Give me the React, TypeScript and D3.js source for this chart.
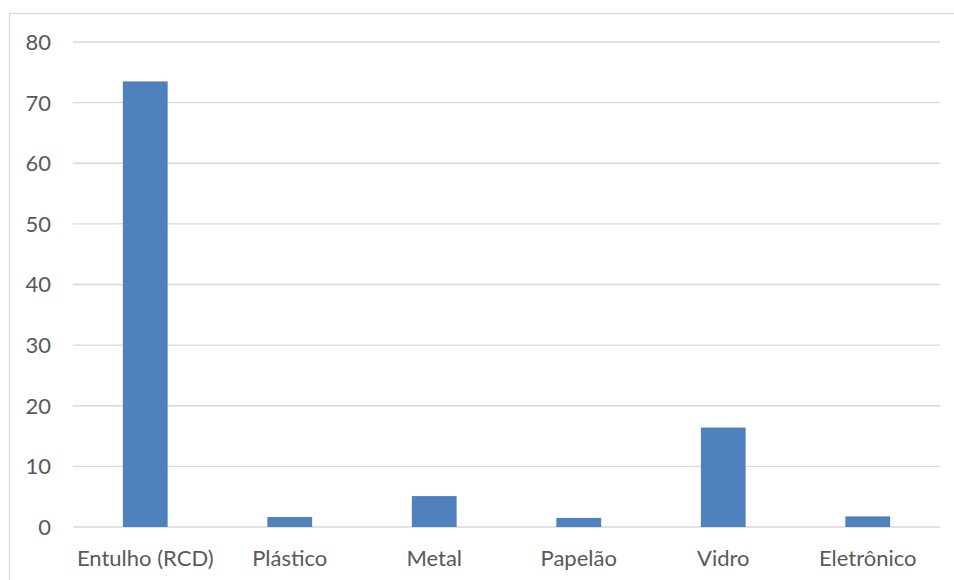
import React from "react";
import * as d3 from "d3";

const categories = ["Entulho (RCD)", "Plástico", "Metal", "Papelão", "Vidro", "Eletrônico"];
const values = [73.5, 1.65, 5.1, 1.5, 16.4, 1.75];
const yTicks = [0, 10, 20, 30, 40, 50, 60, 70, 80];

const W = 954;
const H = 580;
const FONT = "Lato, 'Open Sans', sans-serif";

export default function App() {
  const x = d3.scaleBand<string>().domain(categories).range([73, 940]).paddingInner(0.69).paddingOuter(0.345);
  const y = d3.scaleLinear().domain([0, 80]).range([527, 42]);

  return (
    <svg width={W} height={H} style={{ position: "absolute", left: 0, top: 0, background: "#fff" }}>
      <rect x={9.5} y={13.5} width={W + 20} height={H + 20} fill="#fff" stroke="#d9d9d9" strokeWidth={1.3} />
      {yTicks.map((t) => (
        <g key={t}>
          <line x1={73} x2={940} y1={y(t)} y2={y(t)} stroke="#d9d9d9" strokeWidth={1.4} />
          <text x={51} y={y(t)} dy="0.36em" textAnchor="end" fontFamily={FONT} fontSize={22} fill="#595959">
            {t}
          </text>
        </g>
      ))}
      {categories.map((c, i) => (
        <rect key={c} x={x(c)} y={y(values[i])} width={x.bandwidth()} height={y(0) - y(values[i])} fill="#4f81bd" />
      ))}
      {categories.map((c) => (
        <text key={c} x={(x(c) as number) + x.bandwidth() / 2} y={566} textAnchor="middle" fontFamily={FONT} fontSize={22} fill="#595959">
          {c}
        </text>
      ))}
    </svg>
  );
}
